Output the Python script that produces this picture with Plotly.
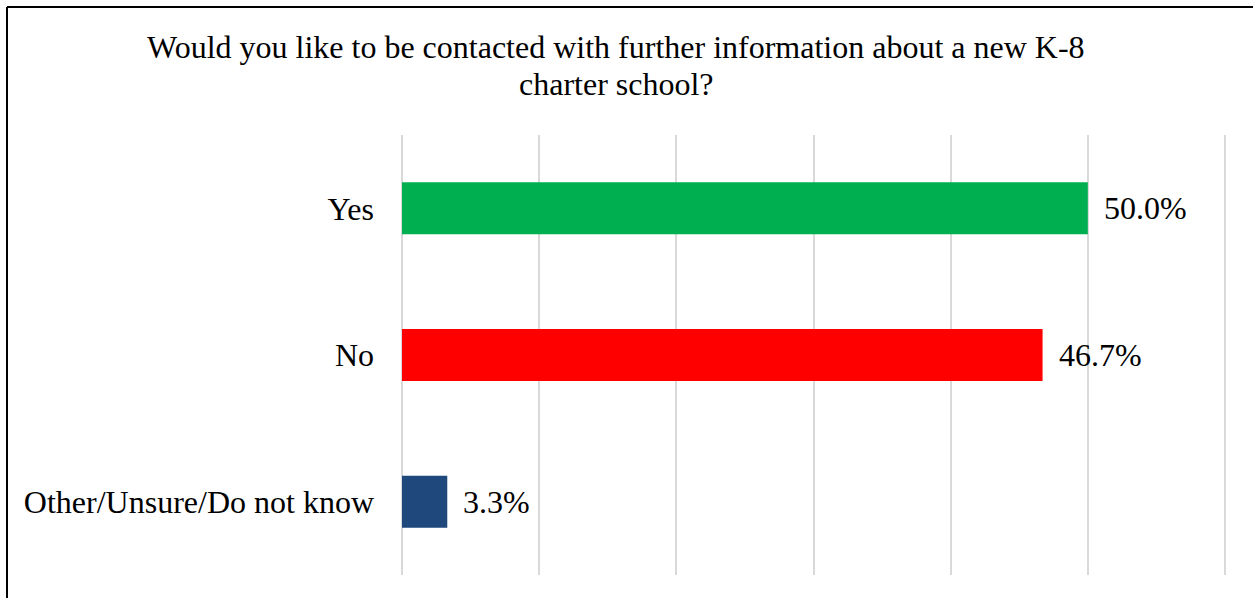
import plotly.graph_objects as go

categories = ["Yes", "No", "Other/Unsure/Do not know"]
values = [50.0, 46.7, 3.3]
labels = ["50.0%", "46.7%", "3.3%"]
colors = ["#00B050", "#FF0000", "#1F497D"]
title_lines = ["Would you like to be contacted with further information about a new K-8",
               "charter school?"]

W, H = 1253, 598
PADPX = 4
ml, mr, mt, mb = 402 - PADPX, 28 - PADPX, 135, 23
pw, ph = W - ml - mr, H - mt - mb
pad = PADPX * 60 / (pw - 2 * PADPX)  # keep 0% and 60% gridlines inside the plot area

FONT = "Liberation Serif, Times New Roman, serif"
FS = 32

fig = go.Figure()
fig.add_trace(go.Bar(
    y=categories, x=values, orientation="h",
    marker=dict(color=colors, line=dict(width=0)),
    width=0.355, hoverinfo="skip",
))
for c, v, t in zip(categories, values, labels):
    fig.add_annotation(x=v, y=c, text=t, showarrow=False, xanchor="left",
                       xshift=14, font=dict(family=FONT, size=FS, color="black"))

# title lines
for line, ypix in zip(title_lines, [47, 84]):
    fig.add_annotation(xref="paper", yref="paper", x=(616 - ml) / pw,
                       y=(H - mb - ypix) / ph, text=line, showarrow=False,
                       xanchor="center", yanchor="middle",
                       font=dict(family=FONT, size=FS, color="black"))

# frame (left and top edges)
x0 = (7 - ml) / pw
y0 = (H - mb - 7) / ph
fig.add_shape(type="line", xref="paper", yref="paper", x0=x0, x1=x0,
              y0=y0, y1=-0.2, line=dict(color="black", width=2))
fig.add_shape(type="line", xref="paper", yref="paper", x0=x0, x1=1.2,
              y0=y0, y1=y0, line=dict(color="black", width=2))

fig.update_layout(
    width=W, height=H,
    margin=dict(l=ml, r=mr, t=mt, b=mb, autoexpand=False),
    paper_bgcolor="white", plot_bgcolor="white",
    showlegend=False,
    xaxis=dict(range=[-pad, 60 + pad], tick0=0, dtick=10, showgrid=True,
               gridcolor="#D9D9D9", gridwidth=2,
               showticklabels=False, zeroline=False, showline=False, ticks=""),
    yaxis=dict(categoryorder="array", categoryarray=categories, autorange="reversed",
               showgrid=False, showline=False, zeroline=False, ticks="",
               ticklabelstandoff=23,
               tickfont=dict(family=FONT, size=FS, color="black")),
)
fig.write_html("out.html")
